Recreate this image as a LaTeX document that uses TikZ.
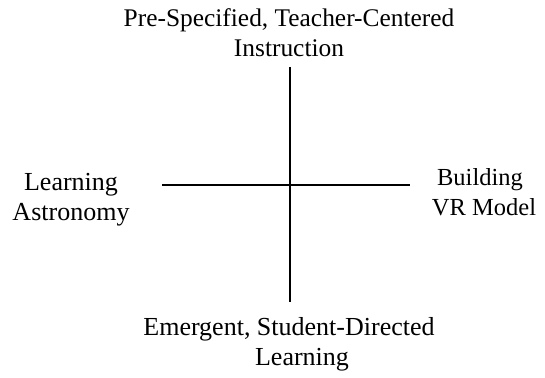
\documentclass[tikz,border=0pt]{standalone}
\usepackage{fontspec}
\setmainfont{Liberation Serif}
\begin{document}
\begin{tikzpicture}[x=1pt,y=-1pt,
  lbl/.style={align=center,inner sep=0pt,anchor=base,font=\fontsize{26}{30}\selectfont},
  axis/.style={line width=1.5pt}]
\useasboundingbox (0,0) rectangle (545,377);
\node[lbl,font=\fontsize{25.4}{30}\selectfont] (top) at (289,57) {Pre-Specified, Teacher-Centered\\Instruction};
\node[lbl] (bot) at (289,365) {Emergent, Student-Directed\\\hspace*{26pt}Learning};
\node[lbl] (left) at (71,220) {Learning\\Astronomy};
\node[lbl,font=\fontsize{24.5}{30}\selectfont] (right) at (480,215) {Building\\\hspace*{8pt}VR Model};
\coordinate (vt) at (290,67);
\coordinate (vb) at (290,302);
\coordinate (hl) at (162,185);
\coordinate (hr) at (410,185);
\draw[axis] (vt) -- (vb);
\draw[axis] (hl) -- (hr);
\end{tikzpicture}
\end{document}
